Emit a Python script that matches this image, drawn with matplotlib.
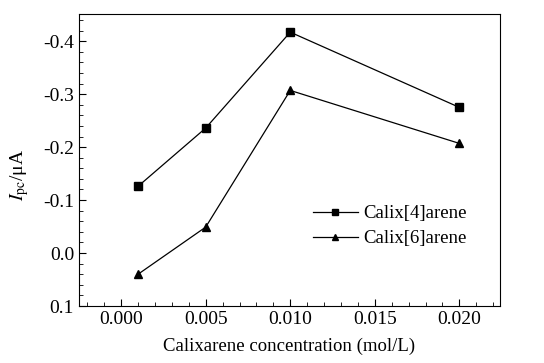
import matplotlib
matplotlib.use("Agg")
import matplotlib.pyplot as plt
from matplotlib.ticker import MultipleLocator

plt.rcParams['font.family'] = ['Liberation Serif', 'DejaVu Serif']
plt.rcParams['mathtext.fontset'] = 'stix'

# concentration (mol/L) and peak currents (uA)
conc = [0.001, 0.005, 0.010, 0.020]
calix4 = [-0.126, -0.236, -0.417, -0.275]
calix6 = [0.040, -0.049, -0.307, -0.207]

fig = plt.figure(figsize=(5.44, 3.63), dpi=100)
ax = fig.add_axes([0.145, 0.157, 0.774, 0.804])

ax.plot(conc, calix4, color="black", lw=0.9, marker="s", markersize=5.5, label="Calix[4]arene")
ax.plot(conc, calix6, color="black", lw=0.9, marker="^", markersize=6, label="Calix[6]arene")

ax.set_xlim(-0.0025, 0.0224)
ax.set_ylim(0.1, -0.451)
ax.xaxis.set_major_locator(MultipleLocator(0.005))
ax.xaxis.set_minor_locator(MultipleLocator(0.001))
ax.yaxis.set_major_locator(MultipleLocator(0.1))
ax.yaxis.set_minor_locator(MultipleLocator(0.02))
ax.tick_params(which="both", direction="in", top=False, right=False, labelsize=14)
ax.tick_params(which="major", length=5)
ax.tick_params(which="minor", length=3)
ax.xaxis.set_major_formatter(matplotlib.ticker.FormatStrFormatter("%.3f"))
ax.yaxis.set_major_formatter(matplotlib.ticker.FormatStrFormatter("%.1f"))

ax.set_xlabel("Calixarene concentration (mol/L)", fontsize=13.5, labelpad=7)
ax.set_ylabel(r"$I_{\mathrm{pc}}$/μA", fontsize=14)
ax.yaxis.set_label_coords(-0.113, 0.45)

ax.legend(loc="upper left", bbox_to_anchor=(0.555, 0.345), frameon=False, fontsize=13.5,
          handlelength=2.4, labelspacing=0.4, handletextpad=0.3, markerscale=0.75,
          borderpad=0, borderaxespad=0)

fig.savefig("out.png", dpi=100)
